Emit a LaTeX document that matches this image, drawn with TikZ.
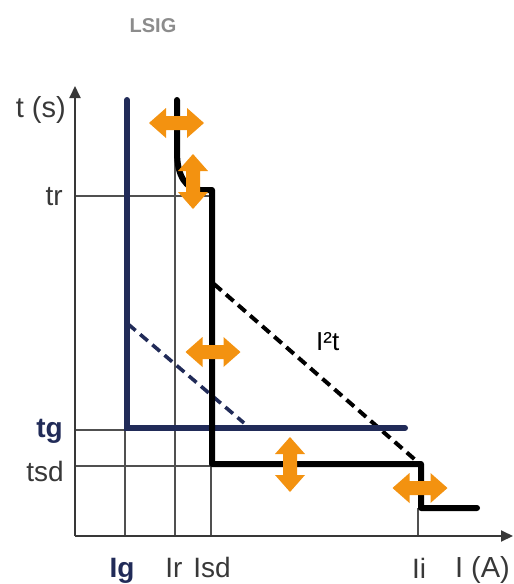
\documentclass[tikz,border=0pt]{standalone}
\usepackage{fontspec}
\setmainfont{Liberation Sans}
\usetikzlibrary{arrows.meta}
\definecolor{navyc}{HTML}{212B58}
\definecolor{orangec}{HTML}{F39210}
\definecolor{axisc}{HTML}{383838}
\definecolor{gridc}{HTML}{505050}
\definecolor{titlec}{HTML}{8C8C8C}
\tikzset{
  axisline/.style={draw=axisc, line width=2pt, -{Triangle[length=12pt,width=11pt]}},
  gridline/.style={draw=gridc, line width=1.2pt},
  navycurve/.style={draw=navyc, line width=6pt, line cap=round, line join=miter},
  blackcurve/.style={draw=black, line width=6pt, line cap=round, line join=round},
  blackdash/.style={draw=black, line width=4pt, dash pattern=on 10pt off 6pt},
  navydash/.style={draw=navyc, line width=3.6pt, dash pattern=on 10pt off 6pt},
  lbl/.style={inner sep=0pt, text=axisc, font=\fontsize{28}{30}\selectfont},
  biglbl/.style={inner sep=0pt, text=axisc, font=\fontsize{29}{31}\selectfont},
  navylbl/.style={inner sep=0pt, text=navyc, font=\fontsize{28}{30}\selectfont\bfseries},
  dblarrow/.pic={\fill[orangec] (-27.5,0) -- (-10.5,-15) -- (-10.5,-7) -- (10.5,-7) -- (10.5,-15) -- (27.5,0) -- (10.5,15) -- (10.5,7) -- (-10.5,7) -- (-10.5,15) -- cycle;}
}
\begin{document}
\begin{tikzpicture}[x=1pt,y=-1pt]
\useasboundingbox (0,0) rectangle (514,584);
% title
\node[inner sep=0pt, anchor=base, text=titlec, font=\fontsize{20}{22}\selectfont\bfseries] (title) at (153,32) {LSIG};
% coordinates
\coordinate (O) at (75,536);
\coordinate (ytip) at (75,86);
\coordinate (xtip) at (513,536);
% grid
\draw[gridline] (125,536) -- (125,430);
\draw[gridline] (175,536) -- (175,150);
\draw[gridline] (211,536) -- (211,192);
\draw[gridline] (418,536) -- (418,508);
\draw[gridline] (75,196) -- (212,196);
\draw[gridline] (75,430) -- (125,430);
\draw[gridline] (75,466) -- (212,466);
% axes
\draw[axisline] (O) -- (ytip);
\draw[axisline] (O) -- (xtip);
% dashed lines
\draw[navydash] (128,324) -- (244,423);
\draw[blackdash] (214,284) -- (420,464);
% navy curve
\draw[navycurve] (127,100) -- (127,428) -- (405,428);
% black curve
\draw[blackcurve] (177,100) -- (177,152) .. controls (177,176) and (186,189) .. (200,190) -- (212,190) -- (212,464) -- (421,464) -- (421,508) -- (477,508);
% orange arrows
\pic at (176.5,123) {dblarrow};
\pic[rotate=90] at (193,181.5) {dblarrow};
\pic at (213,352) {dblarrow};
\pic[rotate=90] at (290,464.5) {dblarrow};
\pic at (420,488) {dblarrow};
% labels
\node[biglbl, anchor=base east] (ts) at (66,117) {t (s)};
\node[lbl, anchor=base east] (tr) at (63,205) {tr};
\node[navylbl, anchor=base east] (tg) at (63,437) {tg};
\node[lbl, anchor=base east] (tsd) at (64,481) {tsd};
\node[navylbl, anchor=base] (Ig) at (122,577) {Ig};
\node[lbl, anchor=base] (Ir) at (174,577) {Ir};
\node[lbl, anchor=base] (Isd) at (212,577) {Isd};
\node[lbl, anchor=base] (Ii) at (419,578) {Ii};
\node[biglbl, anchor=base east] (IA) at (510,577) {I (A)};
\node[inner sep=0pt, text=black, font=\fontsize{26}{28}\selectfont, anchor=base west] (I2t) at (316,350) {I²t};
\end{tikzpicture}
\end{document}
